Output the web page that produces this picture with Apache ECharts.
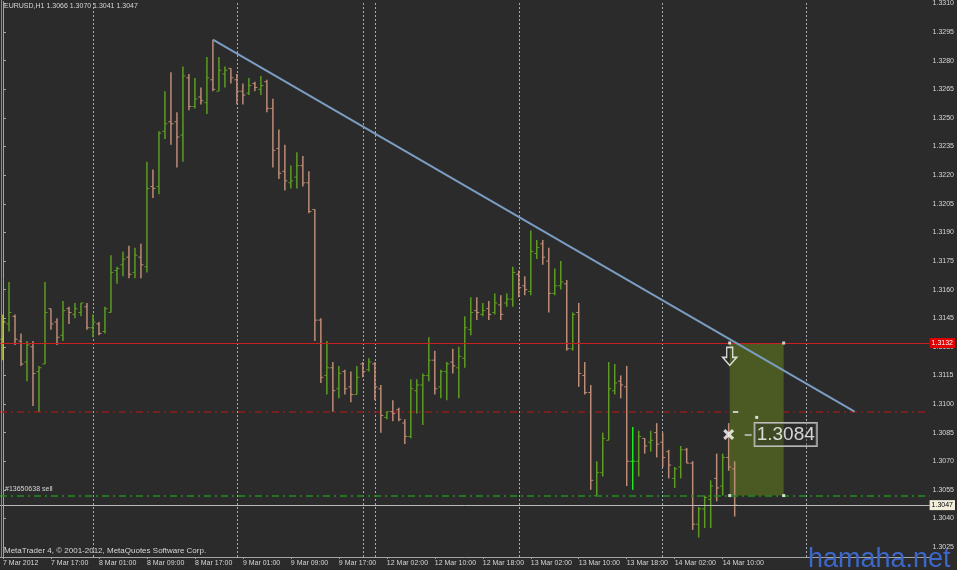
<!DOCTYPE html>
<html><head><meta charset="utf-8">
<script src="https://cdn.jsdelivr.net/npm/echarts@6/dist/echarts.min.js"></script>
<style>html,body{margin:0;padding:0;background:#2b2b2b;}#c{width:957px;height:570px;}</style>
</head><body><div id="c"></div><script>
// ---- data (EURUSD H1, 7 Mar 09:00 .. 14 Mar 12:00) ----
const sessions = [['7 Mar',9,23],['8 Mar',0,23],['9 Mar',0,20],['11 Mar',22,23],['12 Mar',0,23],['13 Mar',0,23],['14 Mar',0,23],['15 Mar',0,20]];
const opens  = [1.3134,1.3142,1.3146,1.3133,1.3122,1.3130,1.3117,1.3121,1.3150,1.3143,1.3136,1.3150,1.3147,1.3148,1.3151,1.3140,1.3142,1.3138,1.3148,1.3170,1.3173,1.3177,1.3169,1.3177,1.3172,1.3214,1.3214,1.3243,1.3248,1.3248,1.3241,1.3271,1.3256,1.3261,1.3258,1.3270,1.3264,1.3273,1.3276,1.3270,1.3264,1.3263,1.3268,1.3265,1.3269,1.3255,1.3234,1.3222,1.3216,1.3219,1.3225,1.3216,1.3202,1.3144,1.3115,1.3119,1.3108,1.3117,1.3109,1.3105,1.3121,1.3118,1.3121,1.3108,1.3093,1.3096,1.3097,1.3090,1.3083,1.3107,1.3110,1.3115,1.3123,1.3109,1.3117,1.3122,1.3119,1.3124,1.3139,1.3149,1.3147,1.3150,1.3148,1.3152,1.3153,1.3155,1.3168,1.3162,1.3159,1.3179,1.3184,1.3175,1.3158,1.3162,1.3163,1.3129,1.3148,1.3115,1.3106,1.3052,1.3064,1.3081,1.3107,1.3112,1.3109,1.3070,1.3070,1.3082,1.3080,1.3085,1.3080,1.3075,1.3061,1.3067,1.3076,1.3069,1.3037,1.3045,1.3050,1.3061,1.3057,1.3072,1.3066];
const highs  = [1.3147,1.3164,1.3147,1.3137,1.3133,1.3133,1.3120,1.3164,1.3150,1.3145,1.3154,1.3151,1.3153,1.3153,1.3153,1.3147,1.3143,1.3151,1.3178,1.3172,1.3180,1.3183,1.3182,1.3184,1.3227,1.3223,1.3243,1.3264,1.3274,1.3253,1.3277,1.3273,1.3271,1.3266,1.3282,1.3291,1.3282,1.3277,1.3276,1.3273,1.3268,1.3271,1.3269,1.3272,1.3270,1.3260,1.3244,1.3236,1.3225,1.3232,1.3230,1.3222,1.3202,1.3145,1.3133,1.3122,1.3120,1.3118,1.3117,1.3120,1.3122,1.3124,1.3122,1.3110,1.3096,1.3102,1.3098,1.3092,1.3113,1.3113,1.3116,1.3135,1.3128,1.3118,1.3122,1.3129,1.3130,1.3146,1.3156,1.3156,1.3153,1.3154,1.3158,1.3157,1.3158,1.3172,1.3170,1.3167,1.3191,1.3186,1.3186,1.3182,1.3171,1.3175,1.3165,1.3148,1.3153,1.3122,1.3110,1.3070,1.3085,1.3122,1.3121,1.3115,1.3120,1.3088,1.3086,1.3082,1.3086,1.3090,1.3085,1.3076,1.3067,1.3078,1.3077,1.3070,1.3046,1.3052,1.3060,1.3074,1.3074,1.3090,1.3070];
const lows   = [1.3123,1.3138,1.3131,1.3120,1.3112,1.3099,1.3096,1.3121,1.3139,1.3131,1.3133,1.3142,1.3145,1.3146,1.3139,1.3135,1.3136,1.3137,1.3148,1.3163,1.3167,1.3166,1.3166,1.3166,1.3169,1.3208,1.3210,1.3239,1.3236,1.3224,1.3227,1.3254,1.3255,1.3257,1.3252,1.3264,1.3264,1.3266,1.3268,1.3257,1.3257,1.3262,1.3264,1.3262,1.3253,1.3224,1.3218,1.3212,1.3213,1.3213,1.3214,1.3200,1.3133,1.3111,1.3105,1.3096,1.3103,1.3105,1.3101,1.3105,1.3114,1.3117,1.3102,1.3085,1.3092,1.3091,1.3091,1.3079,1.3082,1.3095,1.3089,1.3112,1.3105,1.3103,1.3102,1.3116,1.3103,1.3119,1.3136,1.3144,1.3146,1.3144,1.3147,1.3144,1.3151,1.3151,1.3156,1.3157,1.3157,1.3176,1.3173,1.3148,1.3157,1.3160,1.3128,1.3128,1.3109,1.3105,1.3055,1.3052,1.3062,1.3081,1.3105,1.3103,1.3057,1.3055,1.3062,1.3074,1.3075,1.3072,1.3067,1.3061,1.3056,1.3061,1.3069,1.3034,1.3030,1.3035,1.3035,1.3049,1.3052,1.3065,1.3041];
const closes = [1.3143,1.3148,1.3134,1.3121,1.3131,1.3116,1.3119,1.3148,1.3142,1.3135,1.3149,1.3148,1.3150,1.3153,1.3140,1.3143,1.3137,1.3150,1.3169,1.3171,1.3176,1.3168,1.3178,1.3173,1.3213,1.3213,1.3242,1.3247,1.3247,1.3240,1.3272,1.3256,1.3260,1.3259,1.3271,1.3265,1.3275,1.3275,1.3271,1.3264,1.3262,1.3267,1.3266,1.3267,1.3255,1.3233,1.3221,1.3217,1.3217,1.3225,1.3216,1.3201,1.3144,1.3114,1.3119,1.3107,1.3116,1.3108,1.3105,1.3114,1.3117,1.3122,1.3109,1.3094,1.3096,1.3095,1.3092,1.3083,1.3108,1.3110,1.3115,1.3123,1.3108,1.3117,1.3121,1.3120,1.3125,1.3140,1.3148,1.3148,1.3149,1.3147,1.3153,1.3147,1.3155,1.3169,1.3161,1.3160,1.3180,1.3182,1.3177,1.3158,1.3162,1.3164,1.3129,1.3147,1.3116,1.3106,1.3060,1.3064,1.3082,1.3108,1.3111,1.3110,1.3070,1.3070,1.3083,1.3078,1.3081,1.3079,1.3072,1.3068,1.3066,1.3076,1.3069,1.3037,1.3045,1.3051,1.3057,1.3056,1.3072,1.3067,1.3047];
const tickLabels = ['7 Mar 2012','7 Mar 17:00','8 Mar 01:00','8 Mar 09:00','8 Mar 17:00','9 Mar 01:00','9 Mar 09:00','9 Mar 17:00','12 Mar 02:00','12 Mar 10:00','12 Mar 18:00','13 Mar 02:00','13 Mar 10:00','13 Mar 18:00','14 Mar 02:00','14 Mar 10:00'];
const priceTicks = [1.3025,1.3040,1.3055,1.3070,1.3085,1.3100,1.3115,1.3130,1.3145,1.3160,1.3175,1.3190,1.3205,1.3220,1.3235,1.3250,1.3265,1.3280,1.3295,1.3310];
const separators = ['8 Mar 00:00','9 Mar 00:00','11 Mar 22:00','12 Mar 00:00','13 Mar 00:00','14 Mar 00:00','15 Mar 00:00'];
const priceMin = 1.30198, priceMax = 1.33110;
const orderOpen = 1.3132, stopLoss = 1.3096, takeProfit = 1.3052, bidPrice = 1.3047;
const trendStart = [35, 1.3291], trendEnd = [142, 1.3096];
const boxLeft = 121.17, boxRight = 130.17;
const cursorPrice = 1.3084;
const sellArrowPrice = 1.3125;
const anchorDots = [[121.17,1.3132],[130.17,1.3132],[121.17,1.3052],[130.17,1.3052],[125.67,1.3093]];

// ---- build ----
const categories = [];
sessions.forEach(([d,h0,h1]) => { for (let h=h0; h<=h1; h++) categories.push(d+' '+String(h).padStart(2,'0')+':00'); });
const barData = opens.map((o,i)=>[i,o,highs[i],lows[i],closes[i]]);
const N = categories.length;

const BULL='#5c9c22', BEAR='#bd8c77', DOJI='#22e622', FIRST='#c2cf3c';
const TXT='#d6d6d6', AX='#a4a4a4';
const F='Liberation Sans';

const chart = echarts.init(document.getElementById('c'));
chart.setOption({
  backgroundColor:'#2b2b2b',
  animation:false,
  textStyle:{fontFamily:F},
  grid:{left:0, right:27, top:1, bottom:13, containLabel:false},
  xAxis:[{
    type:'category', data:categories, boundaryGap:true,
    axisLine:{show:true, lineStyle:{color:AX, width:1}},
    axisTick:{show:true, alignWithLabel:true, length:2, interval:(i)=>i%8===0&&i<=120, lineStyle:{color:AX}},
    axisLabel:{show:true, interval:(i)=>i%8===0&&i<=120, formatter:(v,i)=>tickLabels[i/8]||'', align:'left', margin:3, fontSize:7, color:TXT, fontFamily:F},
    splitLine:{show:false}
  },{
    type:'value', min:-0.5, max:N-0.5, show:false
  }],
  yAxis:{
    type:'value', position:'right', min:priceMin, max:priceMax, scale:true,
    axisLine:{show:true, lineStyle:{color:AX}},
    axisTick:{show:true, length:3, customValues:priceTicks, lineStyle:{color:AX}},
    axisLabel:{show:true, customValues:priceTicks, formatter:(v)=>v.toFixed(4), margin:3, fontSize:7, color:TXT, fontFamily:F},
    splitLine:{show:false}
  },
  series:[
    { // day separators
      type:'line', data:[], xAxisIndex:0, silent:true,
      markLine:{silent:true, symbol:['none','none'], z:1, label:{show:false},
        lineStyle:{color:'#a3abb3', type:[2,2], width:1},
        data:separators.map(s=>({xAxis:s}))}
    },
    { // stop loss
      type:'line', data:[], xAxisIndex:0, silent:true,
      markLine:{silent:true, precision:5, symbol:['none','none'], z:2, label:{show:false},
        data:[{yAxis:stopLoss, lineStyle:{color:'#8e1d1d', type:[7,4,2,4], width:1.5}}]}
    },
    { // order rectangle
      type:'line', data:[], xAxisIndex:1, silent:true,
      markArea:{silent:true, z:3, itemStyle:{color:'#4a5a22'},
        data:[[{coord:[boxLeft, orderOpen]},{coord:[boxRight, takeProfit]}]]}
    },
    { // bars
      type:'custom', name:'EURUSD,H1', xAxisIndex:0, z:5,
      encode:{x:0, y:[1,2,3,4]},
      renderItem(params, api){
        const i=api.value(0), o=api.value(1), h=api.value(2), l=api.value(3), c=api.value(4);
        const pH=api.coord([i,h]), pL=api.coord([i,l]), pO=api.coord([i,o]), pC=api.coord([i,c]);
        const x=pH[0];
        let col = c>o?BULL:(c<o?BEAR:DOJI);
        if(i===0) col=FIRST;
        return {type:'group', children:[
          {type:'line', shape:{x1:x,y1:pH[1],x2:x,y2:pL[1]}, style:{stroke:col, lineWidth:1.5}},
          {type:'line', shape:{x1:x-2.5,y1:pO[1],x2:x,y2:pO[1]}, style:{stroke:col, lineWidth:1}},
          {type:'line', shape:{x1:x,y1:pC[1],x2:x+2.5,y2:pC[1]}, style:{stroke:col, lineWidth:1}}
        ]};
      },
      data:barData
    },
    { // price lines
      type:'line', data:[], xAxisIndex:0, silent:true,
      markLine:{silent:true, precision:5, symbol:['none','none'], z:6,
        data:[
          {yAxis:takeProfit, lineStyle:{color:'#1f8f1f', type:[7,4,2,4], width:1.5}, label:{show:false}},
          {yAxis:bidPrice, lineStyle:{color:'#b8b8b8', type:'solid', width:1},
            label:{show:true, position:'end', distance:0, formatter:bidPrice.toFixed(4), backgroundColor:'#f3eedc', color:'#000', fontSize:7, padding:[2,2,1,2], fontFamily:F}},
          {yAxis:orderOpen, lineStyle:{color:'#cc1f1f', type:'solid', width:1},
            label:{show:true, position:'end', distance:0, formatter:orderOpen.toFixed(4), backgroundColor:'#e00000', color:'#fff', fontSize:7, padding:[2,2,1,2], fontFamily:F}}
        ]}
    },
    { // trendline + small marks
      type:'line', data:[], xAxisIndex:1, silent:true,
      markLine:{silent:true, precision:5, symbol:['none','none'], z:7, label:{show:false},
        data:[
          [{coord:trendStart, lineStyle:{color:'#7b9dc3', width:2, type:'solid'}},{coord:trendEnd}],
          [{coord:[121.7, stopLoss], lineStyle:{color:'#c8c8c8', width:2, type:'solid'}},{coord:[122.6, stopLoss]}],
          [{coord:[123.67, cursorPrice], lineStyle:{color:'#c8c8c8', width:1.5, type:'solid'}},{coord:[124.83, cursorPrice]}]
        ]}
    },
    { // anchor dots
      type:'scatter', xAxisIndex:1, z:8, silent:true,
      symbol:'rect', symbolSize:3, itemStyle:{color:'#ffffff'},
      data:anchorDots
    },
    { // sell arrow
      type:'scatter', xAxisIndex:1, z:8, silent:true,
      symbol:'path://M4,0 L10,0 L10,10 L14,10 L7,18 L0,10 L4,10 Z', symbolSize:[14,18], symbolKeepAspect:false,
      itemStyle:{color:'rgba(0,0,0,0)', borderColor:'#ffffff', borderWidth:1.5},
      data:[[boxLeft, sellArrowPrice]]
    },
    { // cursor cross
      type:'scatter', xAxisIndex:1, z:8, silent:true,
      symbol:'path://M0,2 L2,0 L5,3 L8,0 L10,2 L7,5 L10,8 L8,10 L5,7 L2,10 L0,8 L3,5 Z', symbolSize:11,
      itemStyle:{color:'#ffffff'},
      data:[[121, cursorPrice]]
    },
    { // price label
      type:'scatter', xAxisIndex:1, z:8, silent:true, symbolSize:0,
      label:{show:true, position:'right', distance:3, formatter:cursorPrice.toFixed(4), fontSize:19, color:'#ffffff', fontFamily:F,
        borderColor:'#d8d8d8', borderWidth:1, padding:[3,2,1,2], backgroundColor:'rgba(40,40,40,0.4)'},
      data:[[124.83, cursorPrice]]
    }
  ],
  graphic:[
    {type:'line', shape:{x1:1.5,y1:0,x2:1.5,y2:557}, style:{stroke:'#8a8a8a', lineWidth:1}, z:10, silent:true},
    {type:'text', left:4, top:3, z:10, silent:true, style:{text:'EURUSD,H1 '+[opens[122],highs[122],lows[122],closes[122]].map(v=>v.toFixed(4)).join(' '), fill:TXT, font:'7px "Liberation Sans"'}},
    {type:'text', left:5, top:486, z:10, silent:true, style:{text:'#13650638 sell', fill:TXT, font:'7px "Liberation Sans"'}},
    {type:'text', left:4, top:547, z:10, silent:true, style:{text:'MetaTrader 4, \u00a9 2001-2012, MetaQuotes Software Corp.', fill:TXT, font:'8px "Liberation Sans"'}},
    {type:'text', left:808, top:546, z:10, silent:true, style:{text:'hamaha.net', fill:'#3c68cc', font:'27px "Liberation Sans"'}}
  ]
});
</script></body></html>
